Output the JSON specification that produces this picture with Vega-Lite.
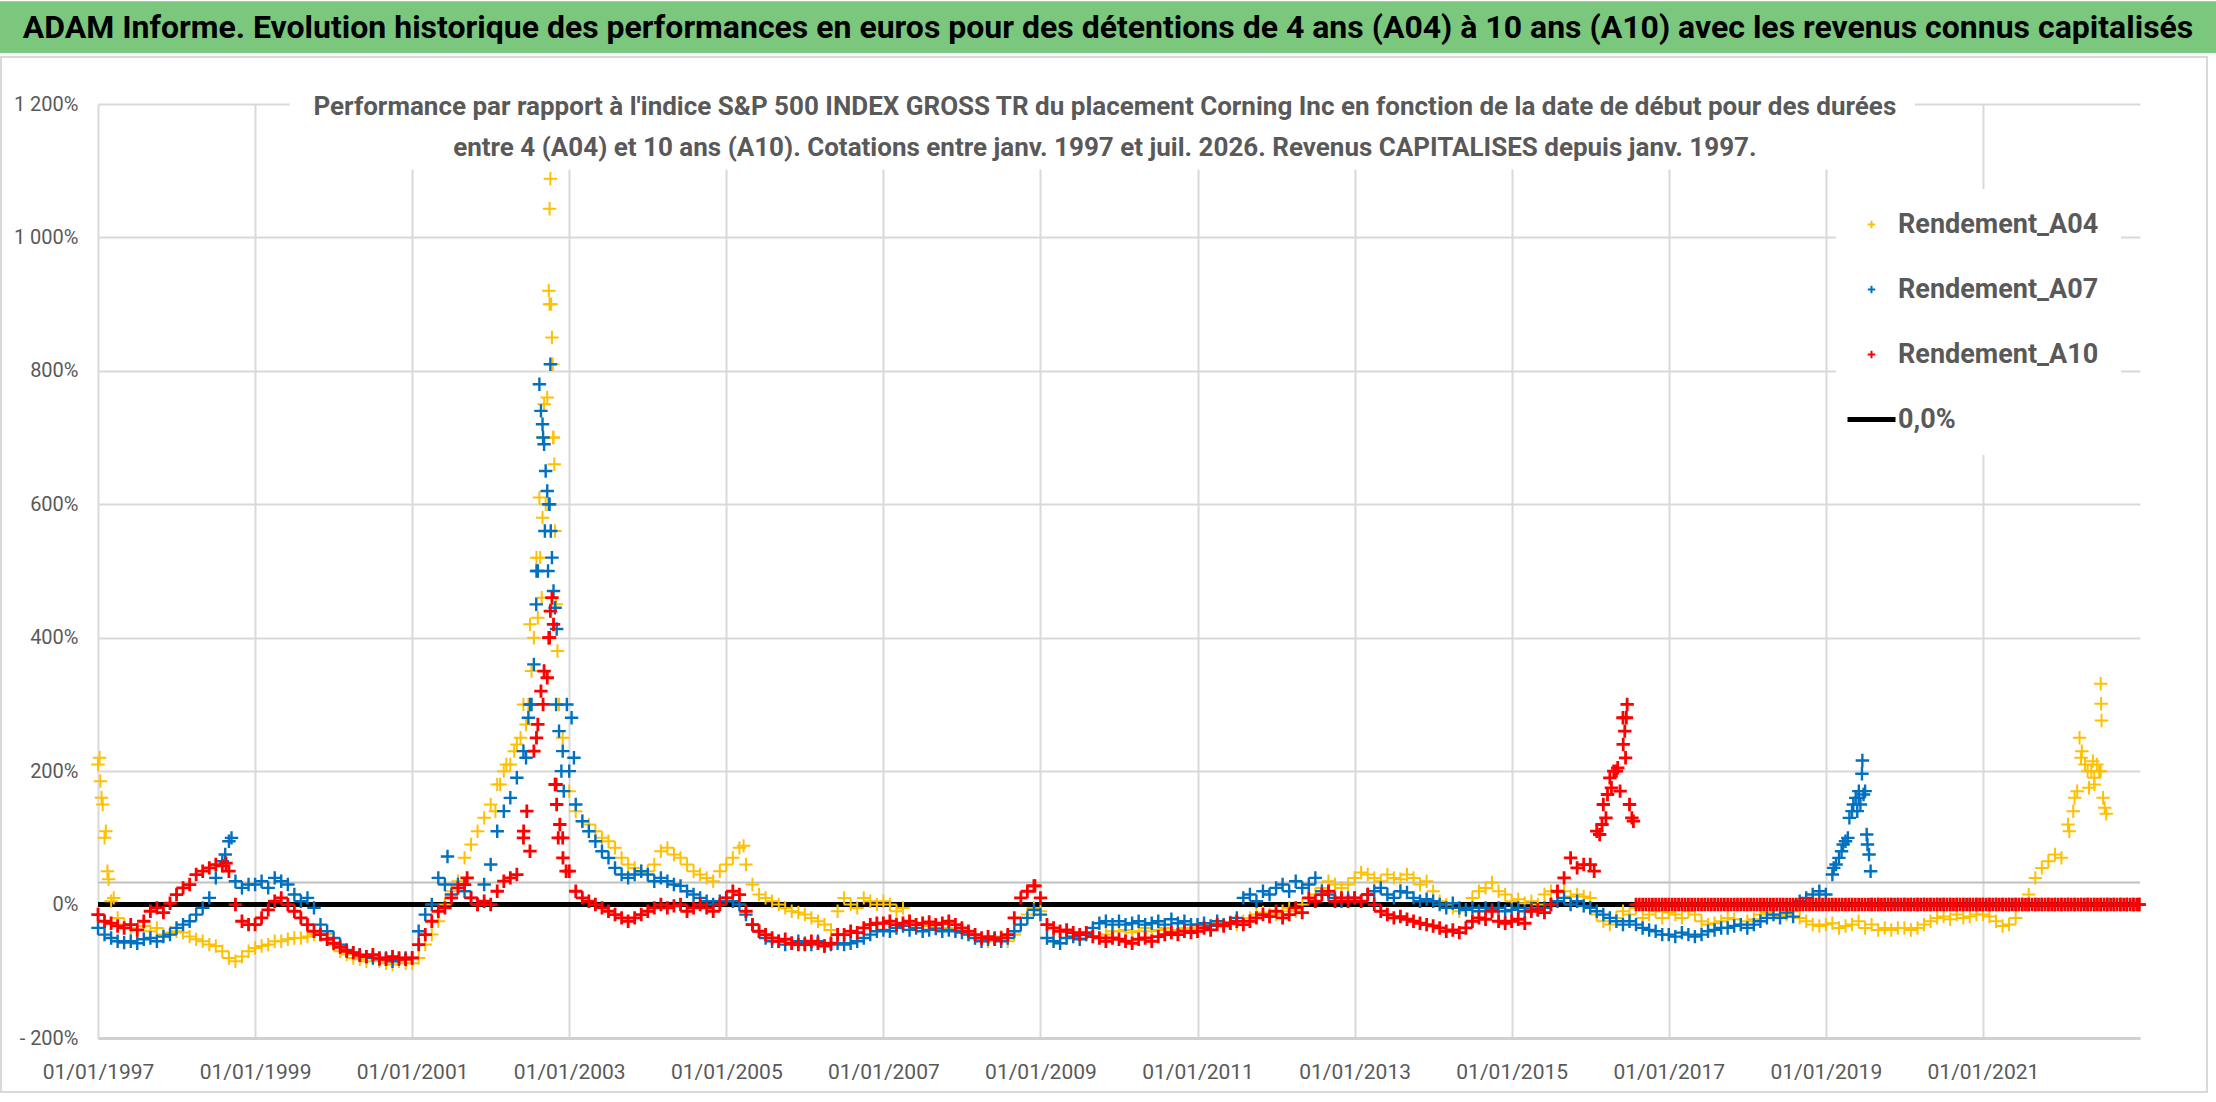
{
  "$schema": "https://vega.github.io/schema/vega-lite/v6.json",
  "background": "white",
  "width": 2042,
  "height": 934,
  "autosize": {"type": "none"},
  "padding": {"left": 98, "top": 104, "right": 76, "bottom": 64},
  "config": {"view": {"stroke": null}, "font": "Roboto"},
  "datasets": {
    "titre": [{"t": "ADAM Informe. Evolution historique des performances en euros pour des détentions de 4 ans (A04) à 10 ans (A10) avec les revenus connus capitalisés"}],
    "soustitre": [{"s": ["Performance par rapport à l'indice S&P 500 INDEX GROSS TR  du placement Corning Inc en fonction de la date de début pour des durées", "entre 4 (A04) et 10 ans (A10). Cotations entre janv. 1997 et juil. 2026. Revenus CAPITALISES depuis janv. 1997."]}],
    "perf": [
      {"t":1997.0,"a":210,"b":-35,"c":-15},{"t":1997.083,"a":100,"b":-45,"c":-25},{"t":1997.167,"a":5,"b":-50,"c":-28},{"t":1997.25,"a":-20,"b":-55,"c":-32},{"t":1997.333,"a":-30,"b":-57,"c":-35},{"t":1997.417,"a":-35,"b":-55,"c":-30},{"t":1997.5,"a":-38,"b":-58,"c":-38},{"t":1997.583,"a":-32,"b":-52,"c":-25},{"t":1997.667,"a":-40,"b":-50,"c":-10},{"t":1997.75,"a":-35,"b":-55,"c":-5},{"t":1997.833,"a":-45,"b":-48,"c":-12},{"t":1997.917,"a":-42,"b":-45,"c":2},
      {"t":1998.0,"a":-40,"b":-35,"c":15},{"t":1998.083,"a":-42,"b":-30,"c":25},{"t":1998.167,"a":-48,"b":-25,"c":30},{"t":1998.25,"a":-52,"b":-15,"c":45},{"t":1998.333,"a":-55,"b":-5,"c":50},{"t":1998.417,"a":-60,"b":10,"c":55},{"t":1998.5,"a":-62,"b":40,"c":60},{"t":1998.583,"a":-70,"b":65,"c":58},{"t":1998.667,"a":-80,"b":95,"c":50},{"t":1998.75,"a":-85,"b":35,"c":0},{"t":1998.833,"a":-78,"b":25,"c":-25},{"t":1998.917,"a":-70,"b":30,"c":-30},
      {"t":1999.0,"a":-65,"b":30,"c":-30},{"t":1999.083,"a":-62,"b":35,"c":-20},{"t":1999.167,"a":-60,"b":25,"c":-8},{"t":1999.25,"a":-55,"b":40,"c":5},{"t":1999.333,"a":-55,"b":35,"c":10},{"t":1999.417,"a":-52,"b":30,"c":0},{"t":1999.5,"a":-50,"b":15,"c":-10},{"t":1999.583,"a":-50,"b":5,"c":-20},{"t":1999.667,"a":-48,"b":10,"c":-30},{"t":1999.75,"a":-45,"b":-5,"c":-40},{"t":1999.833,"a":-45,"b":-30,"c":-45},{"t":1999.917,"a":-44,"b":-40,"c":-52},
      {"t":2000.0,"a":-60,"b":-50,"c":-58},{"t":2000.083,"a":-70,"b":-60,"c":-64},{"t":2000.167,"a":-75,"b":-68,"c":-70},{"t":2000.25,"a":-80,"b":-72,"c":-72},{"t":2000.333,"a":-82,"b":-75,"c":-76},{"t":2000.417,"a":-85,"b":-78,"c":-78},{"t":2000.5,"a":-80,"b":-80,"c":-75},{"t":2000.583,"a":-85,"b":-82,"c":-80},{"t":2000.667,"a":-88,"b":-80,"c":-82},{"t":2000.75,"a":-90,"b":-85,"c":-78},{"t":2000.833,"a":-85,"b":-82,"c":-80},{"t":2000.917,"a":-88,"b":-80,"c":-82},
      {"t":2001.0,"a":-88,"b":-80,"c":-80},{"t":2001.083,"a":-80,"b":-40,"c":-60},{"t":2001.167,"a":-60,"b":-15,"c":-45},{"t":2001.25,"a":-45,"b":0,"c":-25},{"t":2001.333,"a":-25,"b":40,"c":-10},{"t":2001.417,"a":0,"b":30,"c":-5},{"t":2001.5,"a":20,"b":15,"c":10},{"t":2001.583,"a":35,"b":30,"c":25},{"t":2001.667,"a":70,"b":20,"c":30},{"t":2001.75,"a":90,"b":10,"c":10},{"t":2001.833,"a":110,"b":0,"c":0},{"t":2001.917,"a":130,"b":30,"c":5},
      {"t":2002.0,"a":150,"b":60,"c":0},{"t":2002.083,"a":180,"b":110,"c":20},{"t":2002.167,"a":200,"b":140,"c":35},{"t":2002.25,"a":210,"b":160,"c":40},{"t":2002.333,"a":240,"b":190,"c":45},{"t":2002.417,"a":300,"b":230,"c":100},{"t":2002.5,"a":420,"b":300,"c":80},{"t":2002.583,"a":520,"b":500,"c":250},{"t":2002.667,"a":700,"b":700,"c":300},{"t":2002.75,"a":900,"b":600,"c":400},{"t":2002.833,"a":450,"b":300,"c":180},{"t":2002.917,"a":250,"b":230,"c":100},
      {"t":2003.0,"a":170,"b":200,"c":50},{"t":2003.083,"a":140,"b":150,"c":20},{"t":2003.167,"a":125,"b":125,"c":10},{"t":2003.25,"a":120,"b":110,"c":5},{"t":2003.333,"a":110,"b":95,"c":0},{"t":2003.417,"a":100,"b":80,"c":-5},{"t":2003.5,"a":95,"b":70,"c":-10},{"t":2003.583,"a":85,"b":55,"c":-15},{"t":2003.667,"a":70,"b":45,"c":-20},{"t":2003.75,"a":60,"b":40,"c":-25},{"t":2003.833,"a":55,"b":45,"c":-20},{"t":2003.917,"a":50,"b":50,"c":-15},
      {"t":2004.0,"a":50,"b":45,"c":-10},{"t":2004.083,"a":60,"b":35,"c":-5},{"t":2004.167,"a":80,"b":40,"c":0},{"t":2004.25,"a":85,"b":35,"c":-5},{"t":2004.333,"a":75,"b":30,"c":-2},{"t":2004.417,"a":70,"b":28,"c":0},{"t":2004.5,"a":60,"b":20,"c":-10},{"t":2004.583,"a":50,"b":15,"c":-5},{"t":2004.667,"a":45,"b":10,"c":0},{"t":2004.75,"a":40,"b":5,"c":-5},{"t":2004.833,"a":35,"b":0,"c":-10},{"t":2004.917,"a":50,"b":5,"c":0},
      {"t":2005.0,"a":60,"b":10,"c":10},{"t":2005.083,"a":70,"b":5,"c":20},{"t":2005.167,"a":85,"b":0,"c":15},{"t":2005.25,"a":60,"b":-15,"c":-10},{"t":2005.333,"a":30,"b":-30,"c":-30},{"t":2005.417,"a":15,"b":-40,"c":-40},{"t":2005.5,"a":10,"b":-50,"c":-45},{"t":2005.583,"a":5,"b":-55,"c":-50},{"t":2005.667,"a":0,"b":-55,"c":-55},{"t":2005.75,"a":-5,"b":-60,"c":-52},{"t":2005.833,"a":-10,"b":-58,"c":-58},{"t":2005.917,"a":-12,"b":-55,"c":-60},
      {"t":2006.0,"a":-15,"b":-58,"c":-60},{"t":2006.083,"a":-20,"b":-60,"c":-55},{"t":2006.167,"a":-25,"b":-55,"c":-58},{"t":2006.25,"a":-30,"b":-62,"c":-62},{"t":2006.333,"a":-38,"b":-60,"c":-58},{"t":2006.417,"a":-10,"b":-58,"c":-45},{"t":2006.5,"a":10,"b":-60,"c":-45},{"t":2006.583,"a":0,"b":-58,"c":-40},{"t":2006.667,"a":-5,"b":-55,"c":-42},{"t":2006.75,"a":10,"b":-50,"c":-35},{"t":2006.833,"a":5,"b":-45,"c":-30},{"t":2006.917,"a":0,"b":-40,"c":-28},
      {"t":2007.0,"a":5,"b":-38,"c":-28},{"t":2007.083,"a":0,"b":-40,"c":-25},{"t":2007.167,"a":-10,"b":-35,"c":-30},{"t":2007.25,"a":-5,"b":-32,"c":-28},{"t":2007.333,"a":-25,"b":-38,"c":-25},{"t":2007.417,"a":-30,"b":-35,"c":-30},{"t":2007.5,"a":-28,"b":-40,"c":-28},{"t":2007.583,"a":-32,"b":-38,"c":-26},{"t":2007.667,"a":-35,"b":-36,"c":-30},{"t":2007.75,"a":-30,"b":-40,"c":-28},{"t":2007.833,"a":-35,"b":-38,"c":-25},{"t":2007.917,"a":-38,"b":-40,"c":-30},
      {"t":2008.0,"a":-40,"b":-42,"c":-35},{"t":2008.083,"a":-45,"b":-45,"c":-40},{"t":2008.167,"a":-50,"b":-50,"c":-45},{"t":2008.25,"a":-52,"b":-55,"c":-50},{"t":2008.333,"a":-55,"b":-52,"c":-48},{"t":2008.417,"a":-50,"b":-50,"c":-52},{"t":2008.5,"a":-48,"b":-55,"c":-50},{"t":2008.583,"a":-55,"b":-50,"c":-45},{"t":2008.667,"a":-45,"b":-40,"c":-20},{"t":2008.75,"a":-30,"b":-30,"c":10},{"t":2008.833,"a":-15,"b":-20,"c":20},{"t":2008.917,"a":-5,"b":-8,"c":28},
      {"t":2009.0,"a":-10,"b":-15,"c":10},{"t":2009.083,"a":-50,"b":-50,"c":-30},{"t":2009.167,"a":-55,"b":-55,"c":-35},{"t":2009.25,"a":-58,"b":-58,"c":-40},{"t":2009.333,"a":-50,"b":-50,"c":-38},{"t":2009.417,"a":-48,"b":-48,"c":-42},{"t":2009.5,"a":-50,"b":-52,"c":-45},{"t":2009.583,"a":-45,"b":-45,"c":-42},{"t":2009.667,"a":-48,"b":-35,"c":-48},{"t":2009.75,"a":-50,"b":-28,"c":-50},{"t":2009.833,"a":-45,"b":-25,"c":-55},{"t":2009.917,"a":-40,"b":-30,"c":-50},
      {"t":2010.0,"a":-40,"b":-25,"c":-52},{"t":2010.083,"a":-38,"b":-30,"c":-55},{"t":2010.167,"a":-42,"b":-28,"c":-58},{"t":2010.25,"a":-40,"b":-25,"c":-52},{"t":2010.333,"a":-35,"b":-30,"c":-50},{"t":2010.417,"a":-40,"b":-28,"c":-55},{"t":2010.5,"a":-38,"b":-25,"c":-48},{"t":2010.583,"a":-35,"b":-30,"c":-45},{"t":2010.667,"a":-40,"b":-22,"c":-42},{"t":2010.75,"a":-38,"b":-28,"c":-45},{"t":2010.833,"a":-35,"b":-25,"c":-40},{"t":2010.917,"a":-36,"b":-30,"c":-42},
      {"t":2011.0,"a":-34,"b":-30,"c":-40},{"t":2011.083,"a":-30,"b":-28,"c":-35},{"t":2011.167,"a":-32,"b":-32,"c":-38},{"t":2011.25,"a":-28,"b":-25,"c":-30},{"t":2011.333,"a":-30,"b":-30,"c":-32},{"t":2011.417,"a":-26,"b":-28,"c":-28},{"t":2011.5,"a":-30,"b":-20,"c":-25},{"t":2011.583,"a":-25,"b":10,"c":-30},{"t":2011.667,"a":-20,"b":15,"c":-25},{"t":2011.75,"a":-15,"b":5,"c":-20},{"t":2011.833,"a":-12,"b":20,"c":-15},{"t":2011.917,"a":-15,"b":15,"c":-18},
      {"t":2012.0,"a":-15,"b":25,"c":-10},{"t":2012.083,"a":-10,"b":30,"c":-20},{"t":2012.167,"a":-5,"b":20,"c":-15},{"t":2012.25,"a":-10,"b":35,"c":-5},{"t":2012.333,"a":0,"b":25,"c":-12},{"t":2012.417,"a":10,"b":30,"c":10},{"t":2012.5,"a":15,"b":40,"c":5},{"t":2012.583,"a":25,"b":20,"c":15},{"t":2012.667,"a":35,"b":15,"c":20},{"t":2012.75,"a":30,"b":10,"c":5},{"t":2012.833,"a":25,"b":5,"c":10},{"t":2012.917,"a":30,"b":10,"c":5},
      {"t":2013.0,"a":40,"b":10,"c":10},{"t":2013.083,"a":48,"b":5,"c":5},{"t":2013.167,"a":45,"b":15,"c":15},{"t":2013.25,"a":40,"b":20,"c":0},{"t":2013.333,"a":35,"b":25,"c":-10},{"t":2013.417,"a":45,"b":15,"c":-15},{"t":2013.5,"a":40,"b":10,"c":-20},{"t":2013.583,"a":38,"b":20,"c":-18},{"t":2013.667,"a":45,"b":18,"c":-22},{"t":2013.75,"a":40,"b":10,"c":-25},{"t":2013.833,"a":30,"b":5,"c":-28},{"t":2013.917,"a":35,"b":8,"c":-30},
      {"t":2014.0,"a":20,"b":5,"c":-32},{"t":2014.083,"a":5,"b":0,"c":-35},{"t":2014.167,"a":0,"b":-5,"c":-40},{"t":2014.25,"a":-5,"b":2,"c":-38},{"t":2014.333,"a":-10,"b":-5,"c":-42},{"t":2014.417,"a":-8,"b":-8,"c":-35},{"t":2014.5,"a":10,"b":-5,"c":-25},{"t":2014.583,"a":20,"b":-10,"c":-20},{"t":2014.667,"a":25,"b":-5,"c":-22},{"t":2014.75,"a":33,"b":-8,"c":-10},{"t":2014.833,"a":20,"b":-5,"c":-25},{"t":2014.917,"a":15,"b":-10,"c":-28},
      {"t":2015.0,"a":5,"b":-8,"c":-25},{"t":2015.083,"a":8,"b":-5,"c":-22},{"t":2015.167,"a":2,"b":-10,"c":-28},{"t":2015.25,"a":5,"b":-6,"c":-10},{"t":2015.333,"a":0,"b":-8,"c":-8},{"t":2015.417,"a":15,"b":-5,"c":-12},{"t":2015.5,"a":20,"b":0,"c":0},{"t":2015.583,"a":18,"b":5,"c":20},{"t":2015.667,"a":20,"b":10,"c":40},{"t":2015.75,"a":12,"b":0,"c":70},{"t":2015.833,"a":15,"b":5,"c":55},{"t":2015.917,"a":12,"b":-2,"c":60},
      {"t":2016.0,"a":10,"b":-5,"c":60},{"t":2016.083,"a":-15,"b":-10,"c":110},{"t":2016.167,"a":-25,"b":-15,"c":150},{"t":2016.25,"a":-30,"b":-20,"c":190},{"t":2016.333,"a":-20,"b":-25,"c":200},{"t":2016.417,"a":-10,"b":-30,"c":280},{"t":2016.5,"a":-15,"b":-25,"c":150},{"t":2016.583,"a":-5,"b":-30,"c":0},{"t":2016.667,"a":-20,"b":-35,"c":0},{"t":2016.75,"a":-15,"b":-38,"c":0},{"t":2016.833,"a":-10,"b":-40,"c":0},{"t":2016.917,"a":-20,"b":-45,"c":0},
      {"t":2017.0,"a":-12,"b":-45,"c":0},{"t":2017.083,"a":-15,"b":-48,"c":0},{"t":2017.167,"a":-20,"b":-42,"c":0},{"t":2017.25,"a":-10,"b":-45,"c":0},{"t":2017.333,"a":-15,"b":-48,"c":0},{"t":2017.417,"a":-25,"b":-45,"c":0},{"t":2017.5,"a":-30,"b":-40,"c":0},{"t":2017.583,"a":-28,"b":-38,"c":0},{"t":2017.667,"a":-25,"b":-35,"c":0},{"t":2017.75,"a":-20,"b":-35,"c":0},{"t":2017.833,"a":-22,"b":-32,"c":0},{"t":2017.917,"a":-30,"b":-30,"c":0},
      {"t":2018.0,"a":-25,"b":-35,"c":0},{"t":2018.083,"a":-22,"b":-30,"c":0},{"t":2018.167,"a":-15,"b":-25,"c":0},{"t":2018.25,"a":-12,"b":-20,"c":0},{"t":2018.333,"a":-15,"b":-15,"c":0},{"t":2018.417,"a":-18,"b":-20,"c":0},{"t":2018.5,"a":-15,"b":-12,"c":0},{"t":2018.583,"a":-10,"b":-18,"c":0},{"t":2018.667,"a":-20,"b":5,"c":0},{"t":2018.75,"a":-25,"b":10,"c":0},{"t":2018.833,"a":-30,"b":15,"c":0},{"t":2018.917,"a":-32,"b":20,"c":0},
      {"t":2019.0,"a":-30,"b":15,"c":0},{"t":2019.083,"a":-28,"b":45,"c":0},{"t":2019.167,"a":-35,"b":70,"c":0},{"t":2019.25,"a":-32,"b":95,"c":0},{"t":2019.333,"a":-30,"b":140,"c":0},{"t":2019.417,"a":-25,"b":160,"c":0},{"t":2019.5,"a":-35,"b":170,"c":0},{"t":2019.583,"a":-30,"b":0,"c":0},{"t":2019.667,"a":-38,"b":0,"c":0},{"t":2019.75,"a":-35,"b":0,"c":0},{"t":2019.833,"a":-38,"b":0,"c":0},{"t":2019.917,"a":-35,"b":0,"c":0},
      {"t":2020.0,"a":-35,"b":0,"c":0},{"t":2020.083,"a":-38,"b":0,"c":0},{"t":2020.167,"a":-35,"b":0,"c":0},{"t":2020.25,"a":-30,"b":0,"c":0},{"t":2020.333,"a":-25,"b":0,"c":0},{"t":2020.417,"a":-20,"b":0,"c":0},{"t":2020.5,"a":-18,"b":0,"c":0},{"t":2020.583,"a":-22,"b":0,"c":0},{"t":2020.667,"a":-15,"b":0,"c":0},{"t":2020.75,"a":-20,"b":0,"c":0},{"t":2020.833,"a":-18,"b":0,"c":0},{"t":2020.917,"a":-15,"b":0,"c":0},
      {"t":2021.0,"a":-15,"b":0,"c":0},{"t":2021.083,"a":-18,"b":0,"c":0},{"t":2021.167,"a":-25,"b":0,"c":0},{"t":2021.25,"a":-32,"b":0,"c":0},{"t":2021.333,"a":-30,"b":0,"c":0},{"t":2021.417,"a":-20,"b":0,"c":0},{"t":2021.5,"a":0,"b":0,"c":0},{"t":2021.583,"a":15,"b":0,"c":0},{"t":2021.667,"a":40,"b":0,"c":0},{"t":2021.75,"a":55,"b":0,"c":0},{"t":2021.833,"a":65,"b":0,"c":0},{"t":2021.917,"a":75,"b":0,"c":0},
      {"t":2022.0,"a":70,"b":0,"c":0},{"t":2022.083,"a":120,"b":0,"c":0},{"t":2022.167,"a":160,"b":0,"c":0},{"t":2022.25,"a":220,"b":0,"c":0},{"t":2022.333,"a":200,"b":0,"c":0},{"t":2022.417,"a":190,"b":0,"c":0},{"t":2022.5,"a":200,"b":0,"c":0},{"t":2022.583,"a":0,"b":0,"c":0},{"t":2022.667,"a":0,"b":0,"c":0},{"t":2022.75,"a":0,"b":0,"c":0},{"t":2022.833,"a":0,"b":0,"c":0},{"t":2022.917,"a":0,"b":0,"c":0},{"t":2022.99,"a":0,"b":0,"c":0},
      {"t":1997.02,"a":220},{"t":1997.03,"a":185},{"t":1997.045,"a":160},{"t":1997.06,"a":150},{"t":1997.1,"a":110},{"t":1997.12,"a":50},{"t":1997.135,"a":38},{"t":1997.2,"a":10},
      {"t":2002.06,"a":140},{"t":2002.12,"a":180},{"t":2002.2,"a":210},{"t":2002.3,"a":230},{"t":2002.38,"a":250},{"t":2002.45,"a":270},{"t":2002.48,"a":300},{"t":2002.52,"a":350},{"t":2002.55,"a":400},{"t":2002.6,"a":430},{"t":2002.62,"a":610},{"t":2002.63,"a":520},{"t":2002.65,"a":460},{"t":2002.66,"a":580},{"t":2002.68,"a":750},{"t":2002.7,"a":600},{"t":2002.72,"a":760},{"t":2002.74,"a":920},{"t":2002.75,"a":1043},{"t":2002.76,"a":1088},{"t":2002.77,"a":900},{"t":2002.78,"a":850},{"t":2002.79,"a":810},{"t":2002.795,"a":700},{"t":2002.8,"a":700},{"t":2002.81,"a":660},{"t":2002.82,"a":560},{"t":2002.85,"a":380},{"t":2002.87,"a":300},{"t":2005.22,"a":88},
      {"t":2022.1,"a":110},{"t":2022.15,"a":140},{"t":2022.2,"a":170},{"t":2022.23,"a":250},{"t":2022.26,"a":230},{"t":2022.3,"a":210},{"t":2022.35,"a":175},{"t":2022.38,"a":200},{"t":2022.4,"a":215},{"t":2022.42,"a":180},{"t":2022.45,"a":210},{"t":2022.48,"a":200},{"t":2022.5,"a":331},{"t":2022.505,"a":301},{"t":2022.51,"a":276},{"t":2022.53,"a":160},{"t":2022.55,"a":145},{"t":2022.57,"a":136},
      {"t":1998.62,"b":75},{"t":1998.7,"b":100},{"t":2001.45,"b":72},{"t":2002.45,"b":220},{"t":2002.48,"b":280},{"t":2002.52,"b":300},{"t":2002.55,"b":360},{"t":2002.58,"b":450},{"t":2002.6,"b":500},{"t":2002.62,"b":780},{"t":2002.64,"b":740},{"t":2002.66,"b":720},{"t":2002.68,"b":690},{"t":2002.69,"b":560},{"t":2002.7,"b":650},{"t":2002.72,"b":620},{"t":2002.73,"b":500},{"t":2002.74,"b":600},{"t":2002.76,"b":810},{"t":2002.765,"b":560},{"t":2002.78,"b":520},{"t":2002.8,"b":470},{"t":2002.82,"b":445},{"t":2002.84,"b":413},{"t":2002.87,"b":260},{"t":2002.9,"b":200},{"t":2002.93,"b":170},{"t":2002.97,"b":300},{"t":2003.03,"b":280},{"t":2003.06,"b":220},
      {"t":2019.1,"b":55},{"t":2019.13,"b":60},{"t":2019.2,"b":80},{"t":2019.22,"b":90},{"t":2019.28,"b":100},{"t":2019.3,"b":130},{"t":2019.35,"b":150},{"t":2019.38,"b":160},{"t":2019.4,"b":140},{"t":2019.42,"b":170},{"t":2019.44,"b":150},{"t":2019.46,"b":196},{"t":2019.465,"b":216},{"t":2019.48,"b":165},{"t":2019.52,"b":105},{"t":2019.53,"b":90},{"t":2019.55,"b":75},{"t":2019.57,"b":50},
      {"t":1998.63,"c":62},{"t":2001.7,"c":40},{"t":2002.42,"c":110},{"t":2002.46,"c":140},{"t":2002.55,"c":230},{"t":2002.6,"c":270},{"t":2002.64,"c":320},{"t":2002.68,"c":350},{"t":2002.72,"c":340},{"t":2002.74,"c":400},{"t":2002.76,"c":440},{"t":2002.78,"c":460},{"t":2002.8,"c":420},{"t":2002.82,"c":180},{"t":2002.84,"c":150},{"t":2002.86,"c":100},{"t":2002.88,"c":120},{"t":2002.92,"c":70},{"t":2002.96,"c":50},{"t":2008.93,"c":28},
      {"t":2016.05,"c":50},{"t":2016.12,"c":105},{"t":2016.15,"c":120},{"t":2016.2,"c":130},{"t":2016.22,"c":165},{"t":2016.27,"c":175},{"t":2016.3,"c":200},{"t":2016.35,"c":205},{"t":2016.38,"c":170},{"t":2016.42,"c":240},{"t":2016.44,"c":260},{"t":2016.45,"c":220},{"t":2016.46,"c":280},{"t":2016.47,"c":300},{"t":2016.53,"c":130},{"t":2016.55,"c":125},
      {"t":2016.625,"c":0},{"t":2016.708,"c":0},{"t":2016.792,"c":0},{"t":2016.875,"c":0},{"t":2016.958,"c":0},
      {"t":2017.042,"c":0},{"t":2017.125,"c":0},{"t":2017.208,"c":0},{"t":2017.292,"c":0},{"t":2017.375,"c":0},{"t":2017.458,"c":0},{"t":2017.542,"c":0},{"t":2017.625,"c":0},{"t":2017.708,"c":0},{"t":2017.792,"c":0},{"t":2017.875,"c":0},{"t":2017.958,"c":0},
      {"t":2018.042,"c":0},{"t":2018.125,"c":0},{"t":2018.208,"c":0},{"t":2018.292,"c":0},{"t":2018.375,"c":0},{"t":2018.458,"c":0},{"t":2018.542,"c":0},{"t":2018.625,"c":0},{"t":2018.708,"c":0},{"t":2018.792,"c":0},{"t":2018.875,"c":0},{"t":2018.958,"c":0},
      {"t":2019.042,"c":0},{"t":2019.125,"c":0},{"t":2019.208,"c":0},{"t":2019.292,"c":0},{"t":2019.375,"c":0},{"t":2019.458,"c":0},{"t":2019.542,"c":0},{"t":2019.625,"c":0},{"t":2019.708,"c":0},{"t":2019.792,"c":0},{"t":2019.875,"c":0},{"t":2019.958,"c":0},
      {"t":2020.042,"c":0},{"t":2020.125,"c":0},{"t":2020.208,"c":0},{"t":2020.292,"c":0},{"t":2020.375,"c":0},{"t":2020.458,"c":0},{"t":2020.542,"c":0},{"t":2020.625,"c":0},{"t":2020.708,"c":0},{"t":2020.792,"c":0},{"t":2020.875,"c":0},{"t":2020.958,"c":0},
      {"t":2021.042,"c":0},{"t":2021.125,"c":0},{"t":2021.208,"c":0},{"t":2021.292,"c":0},{"t":2021.375,"c":0},{"t":2021.458,"c":0},{"t":2021.542,"c":0},{"t":2021.625,"c":0},{"t":2021.708,"c":0},{"t":2021.792,"c":0},{"t":2021.875,"c":0},{"t":2021.958,"c":0},
      {"t":2022.042,"c":0},{"t":2022.125,"c":0},{"t":2022.208,"c":0},{"t":2022.292,"c":0},{"t":2022.375,"c":0},{"t":2022.458,"c":0},{"t":2022.542,"c":0},{"t":2022.625,"c":0},{"t":2022.708,"c":0},{"t":2022.792,"c":0},{"t":2022.875,"c":0},{"t":2022.958,"c":0}
    ]
  },
  "layer": [
    {
      "data": {"name": "titre"},
      "mark": {"type": "rect", "color": "#7CC77E"},
      "encoding": {
        "x": {"datum": 1995.752, "type": "quantitative"},
        "x2": {"datum": 2023.968},
        "y": {"datum": 1354, "type": "quantitative"},
        "y2": {"datum": 1276.4}
      }
    },
    {
      "data": {"name": "titre"},
      "mark": {"type": "rect", "filled": false, "stroke": "#D9D9D9", "strokeWidth": 2},
      "encoding": {
        "x": {"datum": 1995.765, "type": "quantitative"},
        "x2": {"datum": 2023.853},
        "y": {"datum": 1270.5, "type": "quantitative"},
        "y2": {"datum": -280.9}
      }
    },
    {
      "data": {"name": "titre"},
      "mark": {"type": "text", "font": "Roboto", "fontWeight": "bold", "fontSize": 32, "color": "black"},
      "encoding": {
        "x": {"datum": 2009.86, "type": "quantitative"},
        "y": {"datum": 1314, "type": "quantitative"},
        "text": {"field": "t"}
      }
    },
    {
      "data": {"name": "soustitre"},
      "mark": {"type": "rect", "color": "white"},
      "encoding": {
        "x": {"datum": 1999.44, "type": "quantitative"},
        "x2": {"datum": 2020.135},
        "y": {"datum": 1205, "type": "quantitative"},
        "y2": {"datum": 1102}
      }
    },
    {
      "data": {"name": "soustitre"},
      "mark": {"type": "text", "font": "Roboto", "fontWeight": "bold", "fontSize": 26, "color": "#595959", "baseline": "top", "lineHeight": 41},
      "encoding": {
        "x": {"datum": 2009.82, "type": "quantitative"},
        "y": {"datum": 1214.5, "type": "quantitative"},
        "text": {"field": "s"}
      }
    },
    {
      "data": {"values": [{}]},
      "mark": {"type": "rule", "color": "#BFBFBF", "strokeWidth": 2},
      "encoding": {"y": {"datum": 33, "type": "quantitative"}}
    },
    {
      "data": {"values": [{}]},
      "mark": {"type": "rule", "strokeWidth": 5},
      "encoding": {
        "y": {"datum": 0, "type": "quantitative"},
        "color": {
          "datum": "z", "type": "nominal",
          "legend": {
            "title": null, "orient": "none", "legendX": 1738, "legendY": 85,
            "fillColor": "white", "padding": 22,
            "labelExpr": "datum.value == 'a' ? 'Rendement_A04' : datum.value == 'b' ? 'Rendement_A07' : datum.value == 'c' ? 'Rendement_A10' : '0,0%'",
            "labelFont": "Roboto", "labelFontSize": 27, "labelFontWeight": "bold", "labelColor": "#595959", "labelLimit": 400,
            "labelOffset": 13, "rowPadding": 37, "symbolSize": 2304, "symbolStrokeWidth": 2,
            "encode": {
              "symbols": {
                "update": {
                  "shape": {"signal": "datum.value == 'z' ? 'stroke' : 'M-1,0L1,0M0,-1L0,1'"},
                  "size": {"signal": "datum.value == 'z' ? 2304 : 56"},
                  "strokeWidth": {"signal": "datum.value == 'z' ? 5 : 2"},
                  "fill": {"value": "transparent"}
                }
              }
            }
          }
        }
      }
    },
    {
      "data": {"name": "perf"},
      "transform": [
        {"fold": ["a", "b", "c"], "as": ["k", "v"]},
        {"filter": "isValid(datum.v)"}
      ],
      "mark": {"type": "point", "shape": "M-1,0L1,0M0,-1L0,1", "filled": false, "size": 180, "opacity": 1},
      "encoding": {
        "x": {
          "field": "t", "type": "quantitative",
          "scale": {"domain": [1997, 2023], "nice": false, "zero": false},
          "axis": {
            "title": null, "values": [1997, 1999, 2001, 2003, 2005, 2007, 2009, 2011, 2013, 2015, 2017, 2019, 2021],
            "labelExpr": "'01/01/' + datum.value", "labelOverlap": false, "labelFlush": false, "labelBound": false,
            "grid": true, "gridColor": "#D9D9D9", "gridWidth": 2,
            "ticks": false, "domainColor": "#D0D0D0", "domainWidth": 3,
            "labelFont": "Roboto", "labelFontSize": 21, "labelColor": "#595959", "labelPadding": 23
          }
        },
        "y": {
          "field": "v", "type": "quantitative",
          "scale": {"domain": [-200, 1200], "nice": false, "zero": false},
          "axis": {
            "title": null, "values": [-200, 0, 200, 400, 600, 800, 1000, 1200],
            "labelExpr": "(datum.value < 0 ? '- ' : '') + replace(format(abs(datum.value), ','), ',', ' ') + '%'",
            "labelFlush": false,
            "grid": true, "gridColor": "#D9D9D9", "gridWidth": 2,
            "ticks": false, "domain": false,
            "labelFont": "Roboto", "labelFontSize": 20, "labelColor": "#595959", "labelPadding": 20
          }
        },
        "color": {
          "field": "k", "type": "nominal",
          "scale": {"domain": ["a", "b", "c", "z"], "range": ["#FFC000", "#0070C0", "#FF0000", "#000000"]},
          "legend": {
            "title": null, "orient": "none", "legendX": 1738, "legendY": 85,
            "fillColor": "white", "padding": 22,
            "labelExpr": "datum.value == 'a' ? 'Rendement_A04' : datum.value == 'b' ? 'Rendement_A07' : datum.value == 'c' ? 'Rendement_A10' : '0,0%'",
            "labelFont": "Roboto", "labelFontSize": 27, "labelFontWeight": "bold", "labelColor": "#595959", "labelLimit": 400,
            "labelOffset": 13, "rowPadding": 37, "symbolSize": 2304, "symbolStrokeWidth": 2,
            "encode": {
              "symbols": {
                "update": {
                  "shape": {"signal": "datum.value == 'z' ? 'stroke' : 'M-1,0L1,0M0,-1L0,1'"},
                  "size": {"signal": "datum.value == 'z' ? 2304 : 56"},
                  "strokeWidth": {"signal": "datum.value == 'z' ? 5 : 2"},
                  "fill": {"value": "transparent"}
                }
              }
            }
          }
        },
        "strokeWidth": {
          "field": "k", "type": "nominal",
          "scale": {"domain": ["a", "b", "c"], "range": [2, 2.8, 2.8]},
          "legend": null
        },
        "order": {"field": "k", "sort": "ascending"}
      }
    }
  ]
}
